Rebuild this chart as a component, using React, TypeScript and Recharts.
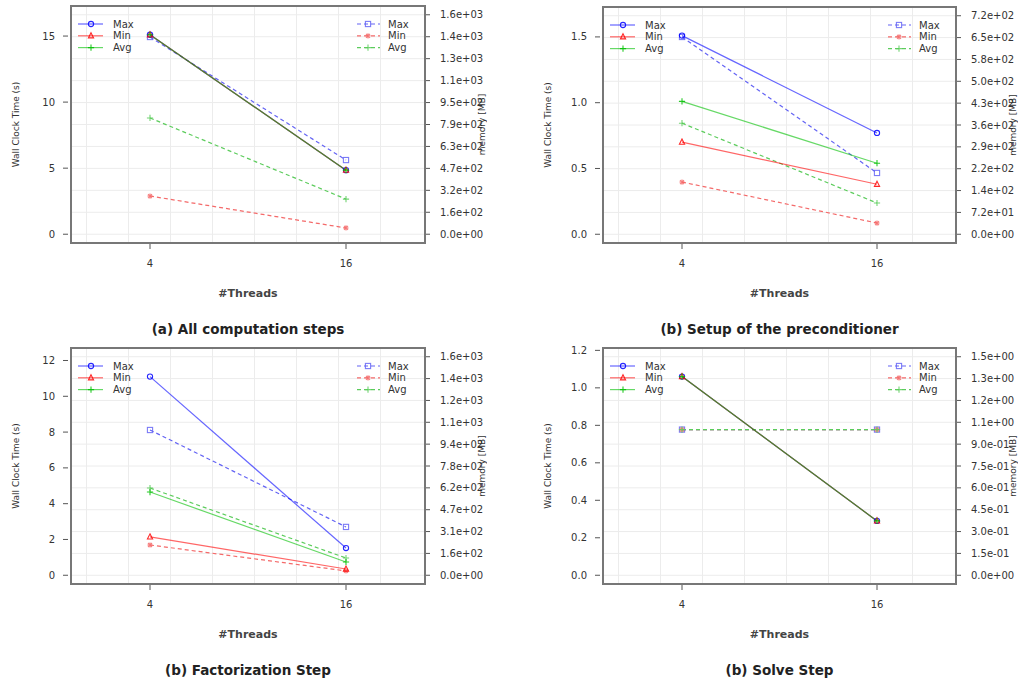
import React from 'react';
import { LineChart, Line, XAxis, YAxis, CartesianGrid, Legend } from 'recharts';

const threads = ['4', '16'];

// (a) all computation steps
const allTimeMax = [15.1, 4.85];
const allTimeMin = [15.1, 4.85];
const allTimeAvg = [15.1, 4.85];
const allMemMax = [1420, 534];
const allMemMin = [275, 45];
const allMemAvg = [837, 253];
const allTimeTicks = [0, 5, 10, 15];
const allMemTop = 1580;
const allMemLabels = ['0.0e+00', '1.6e+02', '3.2e+02', '4.7e+02', '6.3e+02', '7.9e+02', '9.5e+02', '1.1e+03', '1.3e+03', '1.4e+03', '1.6e+03'];

// (b) setup of the preconditioner
const setupTimeMax = [1.51, 0.77];
const setupTimeMin = [0.7, 0.38];
const setupTimeAvg = [1.01, 0.54];
const setupMemMax = [650, 202];
const setupMemMin = [172, 37];
const setupMemAvg = [366, 103];
const setupTimeTicks = [0, 0.5, 1.0, 1.5];
const setupMemTop = 720;
const setupMemLabels = ['0.0e+00', '7.2e+01', '1.4e+02', '2.2e+02', '2.9e+02', '3.6e+02', '4.3e+02', '5.0e+02', '5.8e+02', '6.5e+02', '7.2e+02'];

// (b) factorization step
const factTimeMax = [11.1, 1.52];
const factTimeMin = [2.14, 0.35];
const factTimeAvg = [4.65, 0.74];
const factMemMax = [1037, 345];
const factMemMin = [216, 31];
const factMemAvg = [623, 123];
const factTimeTicks = [0, 2, 4, 6, 8, 10, 12];
const factMemTop = 1560;
const factMemLabels = ['0.0e+00', '1.6e+02', '3.1e+02', '4.7e+02', '6.2e+02', '7.8e+02', '9.4e+02', '1.1e+03', '1.2e+03', '1.4e+03', '1.6e+03'];

// (b) solve step
const solveTimeMax = [1.06, 0.29];
const solveTimeMin = [1.06, 0.29];
const solveTimeAvg = [1.06, 0.29];
const solveMemMax = [1.0, 1.0];
const solveMemMin = [1.0, 1.0];
const solveMemAvg = [1.0, 1.0];
const solveTimeTicks = [0, 0.2, 0.4, 0.6, 0.8, 1.0, 1.2];
const solveMemTop = 1.5;
const solveMemLabels = ['0.0e+00', '1.5e-01', '3.0e-01', '4.5e-01', '6.0e-01', '7.5e-01', '9.0e-01', '1.1e+00', '1.2e+00', '1.3e+00', '1.5e+00'];

const FONT = '"DejaVu Sans", Verdana, sans-serif';
const BLUE = '#0000ff';
const RED = '#ff0000';
const GREEN = '#00c000';
// memory lines are drawn opaque in lighter tints, so the last one drawn stays on top
const BLUE_LIGHT = '#6464f4';
const RED_LIGHT = '#f46a6a';
const GREEN_LIGHT = '#5ccc5c';
const INK = '#333';

// plot box sits at (AXIS_L, TOP) inside each chart
const AXIS_L = 71;
const AXIS_R = 62;
const TOP = 6;
const BELOW = 62;

type Shape = 'circle' | 'square' | 'triangle' | 'plus' | 'star';

const SERIES: { key: string; name: string; axis: string; color: string; dashed: boolean; shape: Shape }[] = [
  { key: 'memMax', name: 'Max', axis: 'mem', color: BLUE_LIGHT, dashed: true, shape: 'square' },
  { key: 'memMin', name: 'Min', axis: 'mem', color: RED_LIGHT, dashed: true, shape: 'star' },
  { key: 'memAvg', name: 'Avg', axis: 'mem', color: GREEN_LIGHT, dashed: true, shape: 'plus' },
  { key: 'timeMax', name: 'Max', axis: 'time', color: BLUE, dashed: false, shape: 'circle' },
  { key: 'timeMin', name: 'Min', axis: 'time', color: RED, dashed: false, shape: 'triangle' },
  { key: 'timeAvg', name: 'Avg', axis: 'time', color: GREEN, dashed: false, shape: 'plus' },
];

type PanelDef = {
  title: string;
  x: number;
  y: number;
  w: number;
  h: number;
  timeMax: number[];
  timeMin: number[];
  timeAvg: number[];
  memMax: number[];
  memMin: number[];
  memAvg: number[];
  timeTicks: number[];
  timeDigits: number;
  memTop: number;
  memLabels: string[];
};

const PANELS: PanelDef[] = [
  {
    title: '(a) All computation steps', x: 71, y: 6, w: 354, h: 237,
    timeMax: allTimeMax, timeMin: allTimeMin, timeAvg: allTimeAvg,
    memMax: allMemMax, memMin: allMemMin, memAvg: allMemAvg,
    timeTicks: allTimeTicks, timeDigits: 0, memTop: allMemTop, memLabels: allMemLabels,
  },
  {
    title: '(b) Setup of the preconditioner', x: 603, y: 7, w: 353, h: 236,
    timeMax: setupTimeMax, timeMin: setupTimeMin, timeAvg: setupTimeAvg,
    memMax: setupMemMax, memMin: setupMemMin, memAvg: setupMemAvg,
    timeTicks: setupTimeTicks, timeDigits: 1, memTop: setupMemTop, memLabels: setupMemLabels,
  },
  {
    title: '(b) Factorization Step', x: 71, y: 348, w: 354, h: 236,
    timeMax: factTimeMax, timeMin: factTimeMin, timeAvg: factTimeAvg,
    memMax: factMemMax, memMin: factMemMin, memAvg: factMemAvg,
    timeTicks: factTimeTicks, timeDigits: 0, memTop: factMemTop, memLabels: factMemLabels,
  },
  {
    title: '(b) Solve Step', x: 603, y: 348, w: 353, h: 236,
    timeMax: solveTimeMax, timeMin: solveTimeMin, timeAvg: solveTimeAvg,
    memMax: solveMemMax, memMin: solveMemMin, memAvg: solveMemAvg,
    timeTicks: solveTimeTicks, timeDigits: 1, memTop: solveMemTop, memLabels: solveMemLabels,
  },
];

function Marker({ cx, cy, shape, color }: { cx: number; cy: number; shape: Shape; color: string }) {
  const s = 2.6;
  const common = { fill: 'none', stroke: color, strokeWidth: 1.1, strokeOpacity: 0.85 };
  if (shape === 'circle') return <circle cx={cx} cy={cy} r={s} {...common} />;
  if (shape === 'square') return <rect x={cx - s} y={cy - s} width={2 * s} height={2 * s} {...common} />;
  if (shape === 'triangle')
    return <path d={`M${cx},${cy - s - 0.5}L${cx + s},${cy + s - 0.5}L${cx - s},${cy + s - 0.5}Z`} {...common} />;
  if (shape === 'star')
    return (
      <path
        d={`M${cx - s},${cy}H${cx + s}M${cx},${cy - s}V${cy + s}M${cx - 2},${cy - 2}L${cx + 2},${cy + 2}M${cx - 2},${cy + 2}L${cx + 2},${cy - 2}`}
        {...common}
      />
    );
  return <path d={`M${cx - s - 0.5},${cy}H${cx + s + 0.5}M${cx},${cy - s - 0.5}V${cy + s + 0.5}`} {...common} />;
}

function DualLegend({ payload, w }: { payload?: any[]; w: number }) {
  const entries = SERIES.map((s) => ({ ...s, item: (payload || []).find((p) => p.dataKey === s.key) }));
  const solid = entries.filter((e) => !e.dashed);
  const dashed = entries.filter((e) => e.dashed);
  const row = (i: number) => 18 + i * 11.8;
  return (
    <svg width={w} height={56} style={{ display: 'block', fontFamily: FONT }}>
      {solid.map((e, i) => (
        <g key={e.key}>
          <line x1={7} x2={32} y1={row(i)} y2={row(i)} stroke={e.color} strokeOpacity={0.6} strokeWidth={1.2} />
          <Marker cx={20} cy={row(i)} shape={e.shape} color={e.color} />
          <text x={42} y={row(i)} dy="0.35em" fontSize={10} fill={INK}>
            {e.item?.value ?? e.name}
          </text>
        </g>
      ))}
      {dashed.map((e, i) => (
        <g key={e.key}>
          <line x1={w - 68} x2={w - 45} y1={row(i)} y2={row(i)} stroke={e.color} strokeWidth={1.2} strokeDasharray="4 3" />
          <Marker cx={w - 57} cy={row(i)} shape={e.shape} color={e.color} />
          <text x={w - 37} y={row(i)} dy="0.35em" fontSize={10} fill={INK}>
            {e.item?.value ?? e.name}
          </text>
        </g>
      ))}
    </svg>
  );
}

function Panel({ p }: { p: PanelDef }) {
  const data = threads.map((t, i) => ({
    threads: t,
    timeMax: p.timeMax[i],
    timeMin: p.timeMin[i],
    timeAvg: p.timeAvg[i],
    memMax: p.memMax[i],
    memMin: p.memMin[i],
    memAvg: p.memAvg[i],
  }));

  // both axes run from 0 to their top value, padded by 4% on each side
  const timeTop = 1.1 * Math.max(...p.timeMax, ...p.timeMin, ...p.timeAvg);
  const timeDomain = [-0.04 * timeTop, 1.04 * timeTop];
  const memDomain = [-0.04 * p.memTop, 1.04 * p.memTop];
  const memTicks = p.memLabels.map((_, i) => (i * p.memTop) / 10);

  const chartW = AXIS_L + p.w + AXIS_R;
  const chartH = TOP + p.h + BELOW;

  return (
    <div style={{ position: 'absolute', left: p.x - AXIS_L, top: p.y - TOP, width: chartW, height: chartH + 40 }}>
      <LineChart
        width={chartW}
        height={chartH}
        data={data}
        margin={{ top: TOP, left: AXIS_L - 60, right: AXIS_R - 50, bottom: BELOW - 30 }}
        style={{ fontFamily: FONT }}
      >
        <CartesianGrid
          yAxisId="mem"
          stroke="#ececec"
          verticalCoordinatesGenerator={({ offset }: any) =>
            Array.from({ length: 8 }, (_, k) => offset.left + 15.5 + k * 42)
          }
        />
        <XAxis
          dataKey="threads"
          padding={{ left: 79, right: 79 }}
          axisLine={false}
          tickSize={0}
          tickMargin={0}
          interval={0}
          height={30}
          tick={({ x, y, payload }: any) => (
            <g>
              <line x1={x} x2={x} y1={y + 1} y2={y + 6} stroke="#555" />
              <text x={x} y={y + 20} dy="0.35em" textAnchor="middle" fontSize={10} fill={INK}>
                {payload.value}
              </text>
            </g>
          )}
          label={() => (
            <text
              x={AXIS_L + p.w / 2}
              y={TOP + p.h + 50}
              dy="0.35em"
              textAnchor="middle"
              fontSize={11}
              fontWeight="bold"
              fill="#444"
            >
              #Threads
            </text>
          )}
        />
        <YAxis
          yAxisId="time"
          type="number"
          domain={timeDomain}
          ticks={p.timeTicks}
          allowDataOverflow
          interval={0}
          width={60}
          axisLine={false}
          tickSize={0}
          tickMargin={0}
          tick={({ x, y, payload }: any) => (
            <g>
              <line x1={x - 8} x2={x - 3} y1={y} y2={y} stroke="#555" />
              <text x={x - 16} y={y} dy="0.35em" textAnchor="end" fontSize={10} fill={INK}>
                {Number(payload.value).toFixed(p.timeDigits)}
              </text>
            </g>
          )}
          label={() => (
            <text
              transform={`translate(${AXIS_L - 55},${TOP + p.h / 2}) rotate(-90)`}
              dy="0.35em"
              textAnchor="middle"
              fontSize={9}
              fill={INK}
            >
              Wall Clock Time (s)
            </text>
          )}
        />
        <YAxis
          yAxisId="mem"
          orientation="right"
          type="number"
          domain={memDomain}
          ticks={memTicks}
          allowDataOverflow
          interval={0}
          width={50}
          axisLine={false}
          tickSize={0}
          tickMargin={0}
          tick={({ x, y, index }: any) => (
            <g>
              <line x1={x + 1} x2={x + 5} y1={y} y2={y} stroke="#555" />
              <text x={x + 15} y={y} dy="0.35em" textAnchor="start" fontSize={10} fill={INK}>
                {p.memLabels[index]}
              </text>
            </g>
          )}
          label={() => (
            <text
              transform={`translate(${AXIS_L + p.w + 57},${TOP + p.h / 2}) rotate(-90)`}
              dy="0.35em"
              textAnchor="middle"
              fontSize={9}
              fill={INK}
            >
              memory [MB]
            </text>
          )}
        />
        <Legend
          layout="horizontal"
          verticalAlign="middle"
          align="center"
          wrapperStyle={{ left: AXIS_L, top: TOP, width: p.w, height: 56 }}
          content={(props: any) => <DualLegend payload={props.payload} w={p.w} />}
        />
        {SERIES.map((s) => (
          <Line
            key={s.key}
            yAxisId={s.axis}
            dataKey={s.key}
            name={s.name}
            type="linear"
            stroke={s.color}
            strokeOpacity={s.dashed ? 1 : 0.6}
            strokeWidth={1.2}
            strokeDasharray={s.dashed ? '4 3' : undefined}
            dot={(d: any) => <Marker key={`${s.key}-${d.index}`} cx={d.cx} cy={d.cy} shape={s.shape} color={s.color} />}
            activeDot={false}
            isAnimationActive={false}
          />
        ))}
      </LineChart>
      <div
        style={{
          position: 'absolute',
          left: AXIS_L - 1,
          top: TOP - 1,
          width: p.w + 2,
          height: p.h + 2,
          border: '2px solid #777',
          boxSizing: 'border-box',
          pointerEvents: 'none',
        }}
      />
      <div
        style={{
          position: 'absolute',
          left: AXIS_L,
          top: TOP + p.h + 78,
          width: p.w,
          height: 16,
          lineHeight: '16px',
          textAlign: 'center',
          fontFamily: FONT,
          fontWeight: 'bold',
          fontSize: 13.5,
          color: '#222',
        }}
      >
        {p.title}
      </div>
    </div>
  );
}

export default function App() {
  return (
    <div
      style={{
        position: 'absolute',
        left: 0,
        top: 0,
        width: 1021,
        height: 684,
        overflow: 'hidden',
        background: '#fff',
      }}
    >
      {PANELS.map((p) => (
        <Panel key={p.title} p={p} />
      ))}
    </div>
  );
}
